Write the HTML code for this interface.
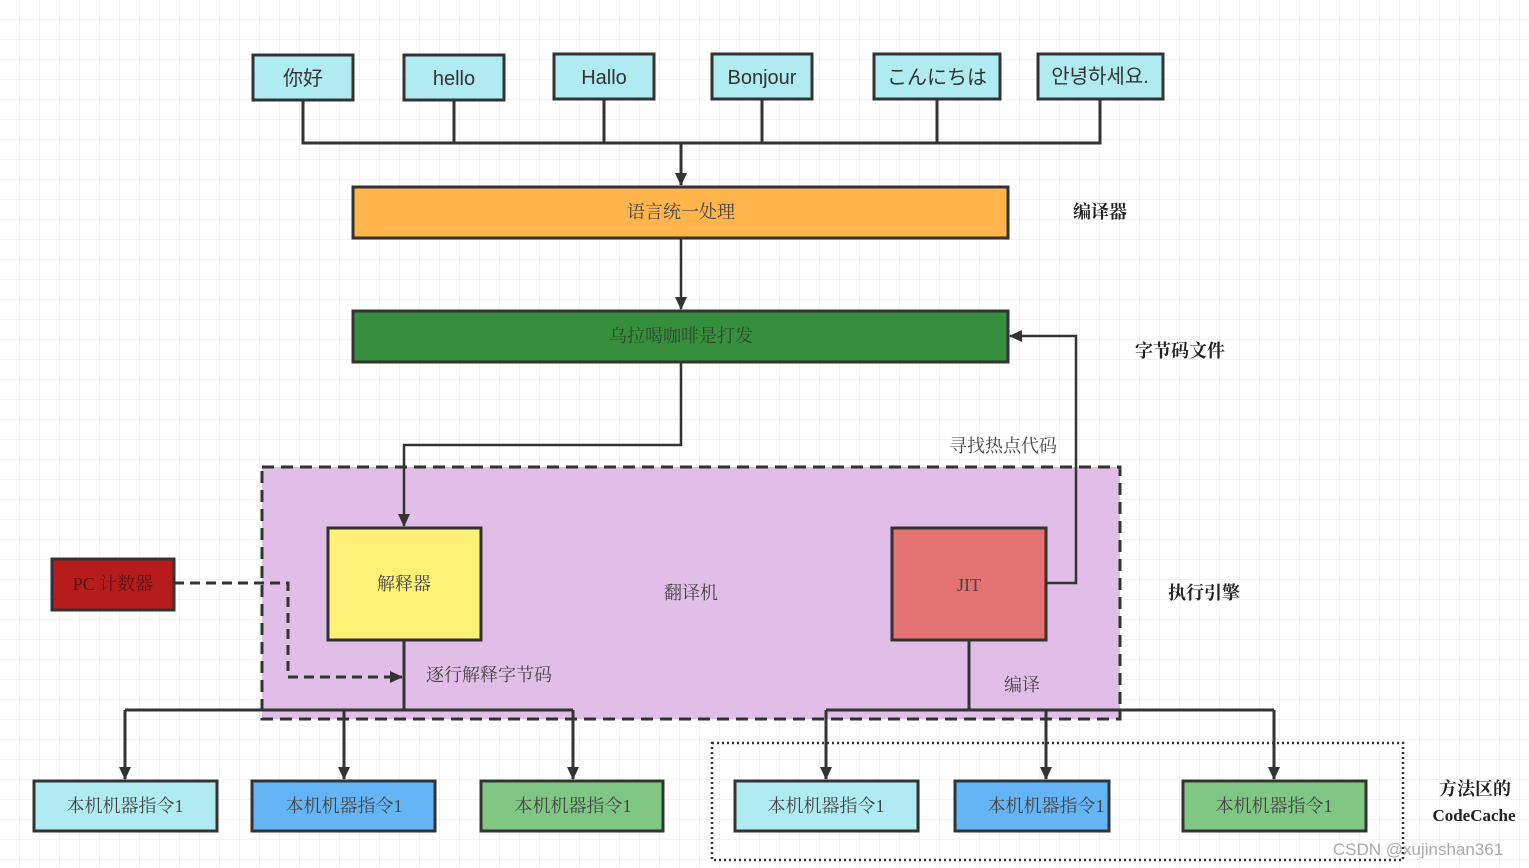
<!DOCTYPE html>
<html><head><meta charset="utf-8"><style>
html,body{margin:0;padding:0;background:#fff;}
svg{display:block;}
.s{font-family:"Liberation Serif","Noto Serif CJK SC",serif;}
.a{font-family:"Liberation Sans","Noto Sans CJK SC",sans-serif;}
</style></head><body>
<svg width="1529" height="868" xmlns="http://www.w3.org/2000/svg">
<defs>
<pattern id="g" width="20" height="20" patternUnits="userSpaceOnUse"><path d="M20 0V20M0 20H20" fill="none" stroke="#e6e6e6" stroke-width="1"/></pattern>
<marker id="ar" markerWidth="14" markerHeight="14" refX="12" refY="7" orient="auto" markerUnits="userSpaceOnUse"><path d="M0,1L13,7L0,13z" fill="#333"/></marker>
</defs>
<rect width="1529" height="868" fill="url(#g)"/>
<g stroke="#333" stroke-width="3" fill="#b0ebf2">
<rect x="253" y="55" width="100" height="45"/>
<rect x="404" y="55" width="100" height="45"/>
<rect x="554" y="54" width="100" height="45"/>
<rect x="712" y="54" width="100" height="45"/>
<rect x="874" y="54" width="126" height="45"/>
<rect x="1038" y="54" width="125" height="45"/>
</g>
<g class="a" font-size="20" fill="#333" text-anchor="middle">
<text x="303" y="85">你好</text><text x="454" y="85">hello</text><text x="604" y="84">Hallo</text>
<text x="762" y="84">Bonjour</text><text x="937" y="84">こんにちは</text><text x="1100" y="83">안녕하세요.</text>
</g>
<rect x="353" y="187" width="655" height="51" fill="#ffb54c" stroke="#333" stroke-width="3"/>
<rect x="353" y="311" width="655" height="51" fill="#368f3d" stroke="#333" stroke-width="3"/>
<g class="s" font-size="18" fill="#444" text-anchor="middle">
<text x="681" y="218">语言统一处理</text>
<text x="681" y="342" fill="#2a4a2a">乌拉喝咖啡是打发</text>
</g>
<rect x="262" y="467" width="858" height="252" fill="#e1bee7" stroke="#333" stroke-width="3" stroke-dasharray="12 7"/>
<rect x="328" y="528" width="153" height="112" fill="#fff176" stroke="#333" stroke-width="3"/>
<rect x="892" y="528" width="154" height="112" fill="#e57373" stroke="#333" stroke-width="3"/>
<rect x="52" y="559" width="122" height="51" fill="#b71c1c" stroke="#333" stroke-width="3"/>
<rect x="712" y="743" width="691" height="117" fill="none" stroke="#333" stroke-width="2.5" stroke-dasharray="2 3"/>
<g stroke="#333" stroke-width="3">
<rect x="34" y="781" width="183" height="50" fill="#b0ebf2"/>
<rect x="252" y="781" width="183" height="50" fill="#64b5f6"/>
<rect x="481" y="781" width="182" height="50" fill="#81c784"/>
<rect x="735" y="781" width="183" height="50" fill="#b0ebf2"/>
<rect x="955" y="781" width="154" height="50" fill="#64b5f6"/>
<rect x="1183" y="781" width="183" height="50" fill="#81c784"/>
</g>
<g stroke="#333" stroke-width="3" fill="none">
<path d="M303 100V143H1100V99M454 100V143M604 99V143M762 99V143M937 99V143"/>
<path d="M681 143V185" marker-end="url(#ar)"/>
<path d="M681 238V309" marker-end="url(#ar)" stroke-width="2.5"/>
<path d="M681 362V445H404V526" marker-end="url(#ar)" stroke-width="2.5"/>
<path d="M1046 583H1076V336H1010" marker-end="url(#ar)" stroke-width="2.5"/>
<path d="M174 583H288V677H402" stroke-dasharray="10 6" marker-end="url(#ar)"/>
<path d="M404 640V710M125 710H573M969 640V710M826 710H1274"/>
<path d="M125 710V779" marker-end="url(#ar)"/>
<path d="M344 710V779" marker-end="url(#ar)"/>
<path d="M573 710V779" marker-end="url(#ar)"/>
<path d="M826 710V779" marker-end="url(#ar)"/>
<path d="M1046 710V779" marker-end="url(#ar)"/>
<path d="M1274 710V779" marker-end="url(#ar)"/>
</g>
<g class="s" font-size="18" fill="#444" text-anchor="middle">
<text x="125" y="812">本机机器指令1</text><text x="344" y="812">本机机器指令1</text><text x="573" y="812">本机机器指令1</text>
<text x="826" y="812">本机机器指令1</text><text x="1046" y="812">本机机器指令1</text><text x="1274" y="812">本机机器指令1</text>
<text x="404" y="590">解释器</text><text x="969" y="591">JIT</text><text x="113" y="590" fill="#5a1010">PC 计数器</text>
<text x="691" y="599">翻译机</text><text x="489" y="681">逐行解释字节码</text><text x="1022" y="691">编译</text>
<text x="1003" y="452">寻找热点代码</text>
</g>
<g class="s" font-size="18" fill="#222" font-weight="bold" text-anchor="middle">
<text x="1100" y="218">编译器</text><text x="1180" y="357">字节码文件</text><text x="1204" y="599">执行引擎</text>
<text x="1475" y="795">方法区的</text><text x="1474" y="821" font-size="17">CodeCache</text>
</g>
<text x="1418" y="855" class="a" font-size="17" fill="#aaa" text-anchor="middle">CSDN @xujinshan361</text>
</svg>
</body></html>
